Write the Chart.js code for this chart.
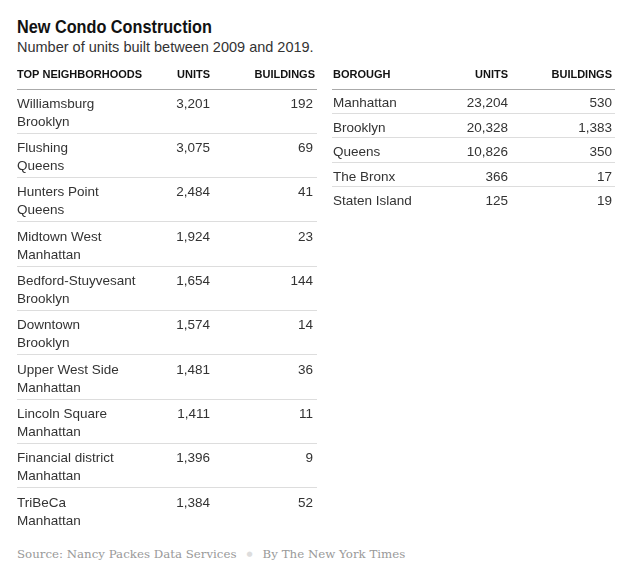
<!DOCTYPE html>
<html>
<head>
<meta charset="utf-8">
<script src="https://cdn.jsdelivr.net/npm/chart.js@4"></script>
<style>
  body { margin: 0; background: #fff; width: 638px; height: 578px; position: relative; overflow: hidden; }
  .txt { position: absolute; left: 17px; white-space: nowrap; }
  #title { top: 16px; font: bold 19px "Liberation Sans", sans-serif; color: #121212; transform: scaleX(0.855); transform-origin: left center; }
  #sub { top: 39px; font: 14.5px "Liberation Sans", sans-serif; color: #333; }
  #source { top: 547px; font: 11.8px "DejaVu Serif", serif; color: #999; }
  #source .dot { color: #ddd; margin: 0 10px; font-size: 7px; vertical-align: 2px; }
  canvas { position: absolute; }
</style>
</head>
<body>
<div class="txt" id="title">New Condo Construction</div>
<div class="txt" id="sub">Number of units built between 2009 and 2019.</div>
<div style="position:absolute;left:0;top:60px;width:325px;height:480px"><canvas id="left"></canvas></div>
<div style="position:absolute;left:320px;top:60px;width:318px;height:160px"><canvas id="right"></canvas></div>
<div class="txt" id="source">Source: Nancy Packes Data Services<span class="dot">&#9679;</span>By The New York Times</div>
<script>
// top neighborhoods
const neighborhoods = ["Williamsburg", "Flushing", "Hunters Point", "Midtown West", "Bedford-Stuyvesant",
  "Downtown", "Upper West Side", "Lincoln Square", "Financial district", "TriBeCa"];
const neighborhoodBorough = ["Brooklyn", "Queens", "Queens", "Manhattan", "Brooklyn",
  "Brooklyn", "Manhattan", "Manhattan", "Manhattan", "Manhattan"];
const neighborhoodUnits = [3201, 3075, 2484, 1924, 1654, 1574, 1481, 1411, 1396, 1384];
const neighborhoodBuildings = [192, 69, 41, 23, 144, 14, 36, 11, 9, 52];
const leftHeaders = ["TOP NEIGHBORHOODS", "UNITS", "BUILDINGS"];

// boroughs
const boroughs = ["Manhattan", "Brooklyn", "Queens", "The Bronx", "Staten Island"];
const boroughUnits = [23204, 20328, 10826, 366, 125];
const boroughBuildings = [530, 1383, 350, 17, 19];
const rightHeaders = ["BOROUGH", "UNITS", "BUILDINGS"];

const fmt = v => v.toLocaleString("en-US");

// draws the cell texts at the y scale's category positions
const cellText = {
  id: "cellText",
  afterDraw(chart) {
    const o = chart.options.plugins.cellText;
    const c = chart.ctx;
    const y = chart.scales.y;
    const top = chart.chartArea.top;
    c.save();
    c.textBaseline = "middle";

    c.font = "bold 11px 'Liberation Sans', sans-serif";
    c.fillStyle = "#121212";
    o.headers.forEach((h, k) => {
      c.textAlign = o.cols[k].align;
      c.fillText(h, o.cols[k].headX ?? o.cols[k].x, top - 14);
    });

    c.font = "13.5px 'Liberation Sans', sans-serif";
    c.fillStyle = "#333";
    chart.data.labels.forEach((lab, i) => {
      const cy = y.getPixelForValue(i) + o.dy;
      const lines = Array.isArray(lab) ? lab : [lab];
      c.textAlign = "left";
      lines.forEach((l, j) => c.fillText(l, o.cols[0].x, cy + j * o.lineH));
      chart.data.datasets.forEach((ds, k) => {
        c.textAlign = "right";
        c.fillText(fmt(ds.data[i]), o.cols[k + 1].x, cy);
      });
    });
    c.restore();
  }
};

function tableChart(id, labels, units, buildings, headers, cols, pad, dy, lineH) {
  return new Chart(document.getElementById(id), {
    type: "bar",
    data: {
      labels: labels,
      datasets: [
        { label: "Units", data: units, backgroundColor: "transparent", borderWidth: 0 },
        { label: "Buildings", data: buildings, backgroundColor: "transparent", borderWidth: 0 }
      ]
    },
    options: {
      indexAxis: "y",
      responsive: true,
      maintainAspectRatio: false,
      animation: false,
      events: [],
      layout: { padding: pad },
      scales: {
        x: { display: false },
        y: {
          offset: true,
          ticks: { display: false },
          border: { display: false },
          grid: {
            offset: true,
            drawTicks: false,
            lineWidth: 1,
            // header rule on top, light rules between rows, none at the bottom
            color: ctx => ctx.type !== "tick" ? "transparent" : (ctx.index === 0 ? "#aaa" : "#ddd")
          },
          afterFit: s => { s.width = 0; }
        }
      },
      plugins: {
        legend: { display: false },
        tooltip: { enabled: false },
        cellText: { headers: headers, cols: cols, dy: dy, lineH: lineH }
      }
    },
    plugins: [cellText]
  });
}

tableChart("left",
  neighborhoods.map((n, i) => [n, neighborhoodBorough[i]]),
  neighborhoodUnits, neighborhoodBuildings, leftHeaders,
  [{ x: 17, align: "left" }, { x: 210, align: "right" }, { x: 313, headX: 315, align: "right" }],
  { left: 17, right: 8, top: 29, bottom: 8 }, -7, 18);

tableChart("right", boroughs, boroughUnits, boroughBuildings, rightHeaders,
  [{ x: 13, align: "left" }, { x: 188, align: "right" }, { x: 292, align: "right" }],
  { left: 12, right: 23, top: 29, bottom: 9 }, 2.5, 18);
</script>
</body>
</html>
